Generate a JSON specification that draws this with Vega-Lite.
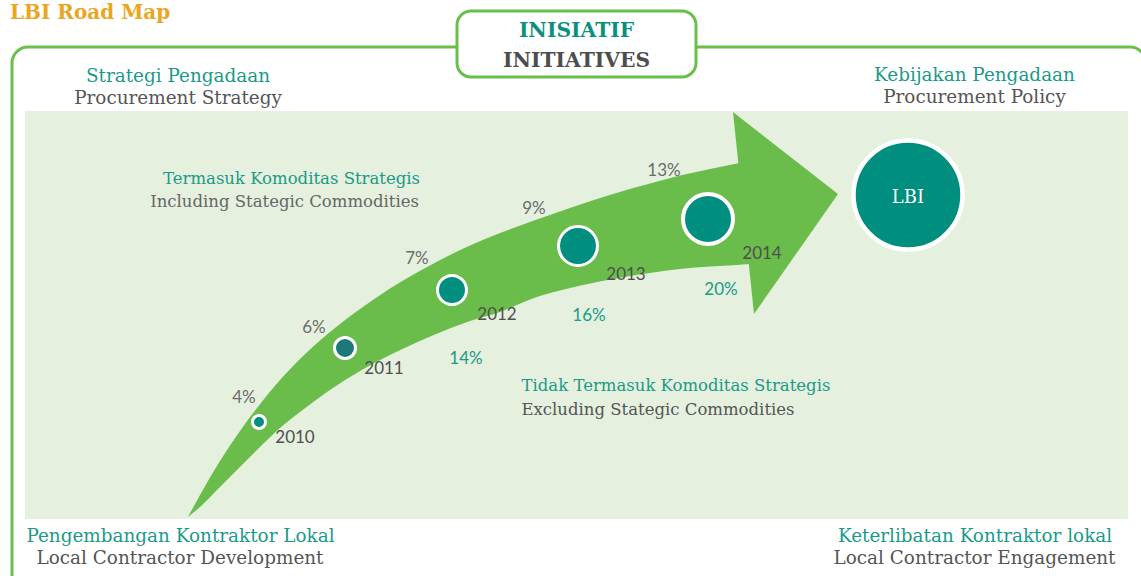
{
  "$schema": "https://vega.github.io/schema/vega-lite/v6.json",
  "width": 1141,
  "height": 576,
  "autosize": {"type": "fit", "contains": "padding"},
  "padding": 0,
  "background": "white",
  "config": {"view": {"stroke": null}},
  "datasets": {
    "frame": [{"x": 12, "y": 47, "x2": 1146, "y2": 640}],
    "panel": [{"x": 25, "y": 111, "x2": 1128, "y2": 519}],
    "box": [{"x": 457, "y": 11, "x2": 696, "y2": 77}],
    "body": [
      {"x": 188, "y": 517, "y2": 517},
      {"x": 200, "y": 495, "y2": 507},
      {"x": 220, "y": 461, "y2": 487},
      {"x": 240, "y": 431, "y2": 467},
      {"x": 257, "y": 408, "y2": 450},
      {"x": 280, "y": 380, "y2": 428},
      {"x": 300, "y": 359, "y2": 412},
      {"x": 327, "y": 334.5, "y2": 392},
      {"x": 360, "y": 309, "y2": 371},
      {"x": 390, "y": 288.5, "y2": 355},
      {"x": 429, "y": 266, "y2": 337},
      {"x": 470, "y": 245.5, "y2": 321},
      {"x": 500, "y": 233, "y2": 312},
      {"x": 534, "y": 220.5, "y2": 298},
      {"x": 570, "y": 208, "y2": 288},
      {"x": 613, "y": 194, "y2": 279},
      {"x": 650, "y": 183.5, "y2": 273},
      {"x": 680, "y": 175.5, "y2": 269},
      {"x": 710, "y": 169, "y2": 266.5},
      {"x": 737, "y": 163.5, "y2": 265},
      {"x": 749, "y": 161.5, "y2": 264}
    ],
    "head": [
      {"x": 733, "y": 112, "y2": 112},
      {"x": 754, "y": 128.4, "y2": 314},
      {"x": 838, "y": 194, "y2": 194}
    ],
    "years": [
      {"year": 2010, "x": 259, "y": 422},
      {"year": 2011, "x": 345, "y": 348},
      {"year": 2012, "x": 452, "y": 290},
      {"year": 2013, "x": 578, "y": 246},
      {"year": 2014, "x": 708, "y": 219}
    ],
    "goal": [{"x": 908, "y": 195}],
    "labels": [
      {"g": "title", "t": "LBI Road Map", "x": 10, "y": 19},
      {"g": "headTeal", "t": "Strategi Pengadaan", "x": 178, "y": 82},
      {"g": "headTeal", "t": "Kebijakan Pengadaan", "x": 974.5, "y": 81},
      {"g": "headTeal", "t": "Pengembangan Kontraktor Lokal", "x": 180.5, "y": 542},
      {"g": "headTeal", "t": "Keterlibatan Kontraktor lokal", "x": 975, "y": 542},
      {"g": "headGray", "t": "Procurement Strategy", "x": 178, "y": 104},
      {"g": "headGray", "t": "Procurement Policy", "x": 974.5, "y": 103},
      {"g": "headGray", "t": "Local Contractor Development", "x": 180, "y": 564},
      {"g": "headGray", "t": "Local Contractor Engagement", "x": 974.5, "y": 564},
      {"g": "initTeal", "t": "INISIATIF", "x": 576.5, "y": 37},
      {"g": "initGray", "t": "INITIATIVES", "x": 576.5, "y": 67},
      {"g": "subTealR", "t": "Termasuk Komoditas Strategis", "x": 420, "y": 184},
      {"g": "subGrayR", "t": "Including Stategic Commodities", "x": 419, "y": 207},
      {"g": "subTealL", "t": "Tidak Termasuk Komoditas Strategis", "x": 521.5, "y": 391},
      {"g": "subGrayL", "t": "Excluding Stategic Commodities", "x": 521.5, "y": 415},
      {"g": "lbi", "t": "LBI", "x": 908, "y": 203},
      {"g": "pct", "t": "4%", "x": 244, "y": 403},
      {"g": "pct", "t": "6%", "x": 314, "y": 333},
      {"g": "pct", "t": "7%", "x": 417, "y": 264},
      {"g": "pct", "t": "9%", "x": 534, "y": 214},
      {"g": "pct", "t": "13%", "x": 664, "y": 176},
      {"g": "pctEx", "t": "14%", "x": 466, "y": 364},
      {"g": "pctEx", "t": "16%", "x": 589, "y": 321},
      {"g": "pctEx", "t": "20%", "x": 721, "y": 295},
      {"g": "year", "t": "2010", "x": 295, "y": 443},
      {"g": "year", "t": "2011", "x": 384, "y": 374},
      {"g": "year", "t": "2012", "x": 497, "y": 320},
      {"g": "year", "t": "2013", "x": 626, "y": 280},
      {"g": "year", "t": "2014", "x": 762, "y": 259}
    ]
  },
  "encoding": {
    "x": {"field": "x", "type": "quantitative", "axis": null, "scale": {"domain": [0, 1141], "nice": false, "zero": false}},
    "y": {"field": "y", "type": "quantitative", "axis": null, "scale": {"domain": [0, 576], "nice": false, "zero": false, "reverse": true}}
  },
  "layer": [
    {
      "data": {"name": "frame"},
      "mark": {"type": "rect", "filled": false, "color": "#6abf4b", "strokeWidth": 3, "cornerRadius": 16, "clip": true},
      "encoding": {"x2": {"field": "x2"}, "y2": {"field": "y2"}}
    },
    {
      "data": {"name": "panel"},
      "mark": {"type": "rect", "color": "#e5f0df"},
      "encoding": {"x2": {"field": "x2"}, "y2": {"field": "y2"}}
    },
    {
      "data": {"name": "box"},
      "mark": {"type": "rect", "fill": "white", "stroke": "#6abf4b", "strokeWidth": 3, "cornerRadius": 14},
      "encoding": {"x2": {"field": "x2"}, "y2": {"field": "y2"}}
    },
    {
      "data": {"name": "body"},
      "mark": {"type": "area", "color": "#6abd4a", "opacity": 1, "interpolate": "monotone"},
      "encoding": {"y": {"field": "y", "type": "quantitative", "stack": null}, "y2": {"field": "y2"}}
    },
    {
      "data": {"name": "head"},
      "mark": {"type": "area", "color": "#6abd4a", "opacity": 1},
      "encoding": {"y": {"field": "y", "type": "quantitative", "stack": null}, "y2": {"field": "y2"}}
    },
    {
      "data": {"name": "years"},
      "mark": {"type": "point", "shape": "circle", "filled": true, "opacity": 1, "stroke": "white"},
      "encoding": {
        "size": {"field": "year", "type": "quantitative", "legend": null, "scale": {"type": "threshold", "domain": [2011, 2012, 2013, 2014], "range": [169, 441, 841, 1521, 2500]}},
        "strokeWidth": {"field": "year", "type": "quantitative", "legend": null, "scale": {"type": "threshold", "domain": [2011, 2012, 2013, 2014], "range": [3, 3, 3, 3, 4]}},
        "fill": {"field": "year", "type": "ordinal", "legend": null, "scale": {"domain": [2010, 2011, 2012, 2013, 2014], "range": ["#008e7e", "#1b7a78", "#008e7e", "#008e7e", "#008e7e"]}}
      }
    },
    {
      "data": {"name": "goal"},
      "mark": {"type": "point", "shape": "circle", "filled": true, "opacity": 1, "fill": "#008e7e", "stroke": "white", "strokeWidth": 4.5, "size": 11881}
    },
    {
      "data": {"name": "labels"},
      "transform": [{"filter": "datum.g === 'title'"}],
      "mark": {"type": "text", "font": "DejaVu Serif", "fontSize": 20, "fontWeight": "bold", "fill": "#eaa620", "align": "left", "baseline": "alphabetic"},
      "encoding": {"text": {"field": "t"}}
    },
    {
      "data": {"name": "labels"},
      "transform": [{"filter": "datum.g === 'headTeal'"}],
      "mark": {"type": "text", "font": "DejaVu Serif", "fontSize": 18.4, "fill": "#1a9a88", "align": "center", "baseline": "alphabetic"},
      "encoding": {"text": {"field": "t"}}
    },
    {
      "data": {"name": "labels"},
      "transform": [{"filter": "datum.g === 'headGray'"}],
      "mark": {"type": "text", "font": "DejaVu Serif", "fontSize": 18.4, "fill": "#555555", "align": "center", "baseline": "alphabetic"},
      "encoding": {"text": {"field": "t"}}
    },
    {
      "data": {"name": "labels"},
      "transform": [{"filter": "datum.g === 'initTeal'"}],
      "mark": {"type": "text", "font": "DejaVu Serif", "fontSize": 20.3, "fontWeight": "bold", "fill": "#0d8f7f", "align": "center", "baseline": "alphabetic"},
      "encoding": {"text": {"field": "t"}}
    },
    {
      "data": {"name": "labels"},
      "transform": [{"filter": "datum.g === 'initGray'"}],
      "mark": {"type": "text", "font": "DejaVu Serif", "fontSize": 20.3, "fontWeight": "bold", "fill": "#4d4d4d", "align": "center", "baseline": "alphabetic"},
      "encoding": {"text": {"field": "t"}}
    },
    {
      "data": {"name": "labels"},
      "transform": [{"filter": "datum.g === 'subTealR'"}],
      "mark": {"type": "text", "font": "DejaVu Serif", "fontSize": 16.5, "fill": "#1a9a88", "align": "right", "baseline": "alphabetic"},
      "encoding": {"text": {"field": "t"}}
    },
    {
      "data": {"name": "labels"},
      "transform": [{"filter": "datum.g === 'subGrayR'"}],
      "mark": {"type": "text", "font": "DejaVu Serif", "fontSize": 16.5, "fill": "#666666", "align": "right", "baseline": "alphabetic"},
      "encoding": {"text": {"field": "t"}}
    },
    {
      "data": {"name": "labels"},
      "transform": [{"filter": "datum.g === 'subTealL'"}],
      "mark": {"type": "text", "font": "DejaVu Serif", "fontSize": 16.5, "fill": "#1a9a88", "align": "left", "baseline": "alphabetic"},
      "encoding": {"text": {"field": "t"}}
    },
    {
      "data": {"name": "labels"},
      "transform": [{"filter": "datum.g === 'subGrayL'"}],
      "mark": {"type": "text", "font": "DejaVu Serif", "fontSize": 16.5, "fill": "#555555", "align": "left", "baseline": "alphabetic"},
      "encoding": {"text": {"field": "t"}}
    },
    {
      "data": {"name": "labels"},
      "transform": [{"filter": "datum.g === 'lbi'"}],
      "mark": {"type": "text", "font": "DejaVu Serif", "fontSize": 18, "fill": "white", "align": "center", "baseline": "alphabetic"},
      "encoding": {"text": {"field": "t"}}
    },
    {
      "data": {"name": "labels"},
      "transform": [{"filter": "datum.g === 'pct'"}],
      "mark": {"type": "text", "font": "Lato", "fontSize": 17, "fill": "#6b6b6b", "align": "center", "baseline": "alphabetic"},
      "encoding": {"text": {"field": "t"}}
    },
    {
      "data": {"name": "labels"},
      "transform": [{"filter": "datum.g === 'pctEx'"}],
      "mark": {"type": "text", "font": "Lato", "fontSize": 17, "fill": "#1a9a88", "align": "center", "baseline": "alphabetic"},
      "encoding": {"text": {"field": "t"}}
    },
    {
      "data": {"name": "labels"},
      "transform": [{"filter": "datum.g === 'year'"}],
      "mark": {"type": "text", "font": "Lato", "fontSize": 17, "fill": "#4f4f4f", "align": "center", "baseline": "alphabetic"},
      "encoding": {"text": {"field": "t"}}
    }
  ]
}
